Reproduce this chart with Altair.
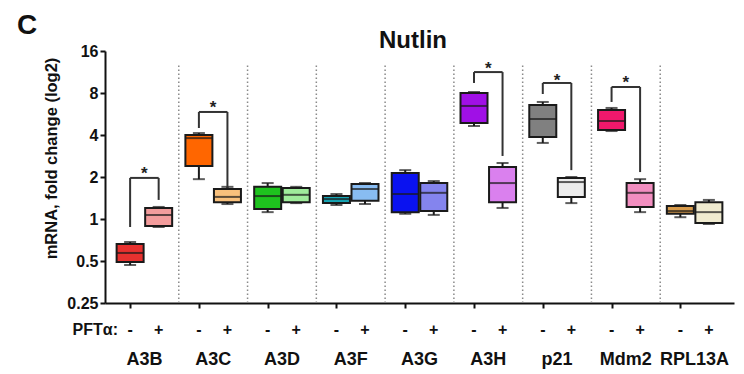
import altair as alt
import pandas as pd

genes = ["A3B", "A3C", "A3D", "A3F", "A3G", "A3H", "p21", "Mdm2", "RPL13A"]

# PFTα "-" boxes
neg_min = [0.468, 1.93, 1.12, 1.26, 1.09, 4.64, 3.51, 4.27, 1.03]
neg_q1 = [0.492, 2.40, 1.18, 1.30, 1.12, 4.88, 3.87, 4.34, 1.09]
neg_med = [0.571, 3.80, 1.46, 1.39, 1.51, 6.46, 5.21, 5.04, 1.14]
neg_q3 = [0.662, 4.00, 1.70, 1.46, 2.14, 8.00, 6.56, 6.04, 1.24]
neg_max = [0.684, 4.13, 1.81, 1.51, 2.24, 8.13, 6.90, 6.25, 1.26]

# PFTα "+" boxes
pos_min = [0.876, 1.28, 1.30, 1.28, 1.07, 1.20, 1.30, 1.12, 0.921]
pos_q1 = [0.891, 1.32, 1.32, 1.35, 1.14, 1.32, 1.44, 1.22, 0.936]
pos_med = [1.068, 1.44, 1.49, 1.64, 1.54, 1.81, 1.84, 1.54, 1.12]
pos_q3 = [1.199, 1.64, 1.67, 1.78, 1.81, 2.36, 1.97, 1.81, 1.32]
pos_max = [1.22, 1.70, 1.70, 1.81, 1.87, 2.52, 2.00, 1.93, 1.37]

neg_colors = ["#e8312f", "#ff6600", "#1ec31e", "#17a5b4", "#0a12f0",
              "#a010e6", "#808080", "#f0186c", "#d79a4a"]
pos_colors = ["#f39c9c", "#f8c07c", "#9fec9b", "#88bcf2", "#8484ee",
              "#da80ee", "#ececec", "#f28ec0", "#f0ebd0"]

# significance brackets
sig_genes = ["A3B", "A3C", "A3H", "p21", "Mdm2"]
sig_left_start = [0.876, 4.49, 9.44, 7.87, 6.90]
sig_top = [1.97, 5.85, 11.3, 9.44, 8.83]
sig_right_end = [1.37, 1.67, 2.83, 2.24, 2.17]
sig_star = [2.24, 6.67, 12.7, 10.4, 10.1]

y_ticks = [0.25, 0.5, 1, 2, 4, 8, 16]
sep_top = 12.7
OFF = 0.2075

rows = []
for i, g in enumerate(genes):
    rows.append(dict(gene=g, treat="-", pos=i - OFF, mn=neg_min[i], q1=neg_q1[i],
                     med=neg_med[i], q3=neg_q3[i], mx=neg_max[i], color=neg_colors[i]))
    rows.append(dict(gene=g, treat="+", pos=i + OFF, mn=pos_min[i], q1=pos_q1[i],
                     med=pos_med[i], q3=pos_q3[i], mx=pos_max[i], color=pos_colors[i]))
boxes = pd.DataFrame(rows)

gene_df = pd.DataFrame({"gene": genes, "pos": list(range(len(genes)))})
sep_df = pd.DataFrame({"pos": [i + 0.5 for i in range(len(genes) - 1)],
                       "lo": 0.25, "hi": sep_top})

seg = []
stars = []
for k, g in enumerate(sig_genes):
    i = genes.index(g)
    xl, xr = i - OFF, i + OFF
    seg.append(dict(x=xl, x2=xl, y=sig_left_start[k], y2=sig_top[k]))
    seg.append(dict(x=xl, x2=xr, y=sig_top[k], y2=sig_top[k]))
    seg.append(dict(x=xr, x2=xr, y=sig_top[k], y2=sig_right_end[k]))
    stars.append(dict(x=i, y=sig_star[k]))
seg_df = pd.DataFrame(seg)
star_df = pd.DataFrame(stars)

W, H = 629, 252
FONT = "Liberation Sans"

xscale = alt.Scale(domain=[-0.5, len(genes) - 0.5], nice=False, zero=False)
yscale = alt.Scale(type="log", base=2, domain=[0.25, 16], nice=False)

x_axis = alt.Axis(values=list(boxes["pos"]), labels=False, ticks=True, tickSize=5,
                  tickWidth=2, tickColor="#111", domainWidth=2, domainColor="#111",
                  grid=False, title=None)
y_axis = alt.Axis(values=y_ticks, labelExpr="datum.value", tickSize=5, tickWidth=2,
                  tickColor="#111", domainWidth=2, domainColor="#111", grid=False,
                  labelFont=FONT, labelFontSize=16, labelFontWeight="bold",
                  labelColor="#111", labelPadding=2,
                  title="mRNA, fold change  (log2)", titleFont=FONT, titleFontSize=16.5,
                  titleFontWeight="bold", titleColor="#111", titleAngle=270,
                  titleX=-54, titleY=107, titleAlign="center", titleBaseline="middle")

base = alt.Chart(boxes)

seps = alt.Chart(sep_df).mark_rule(color="#8a8a8a", strokeWidth=1.5, strokeDash=[1.5, 2.5]).encode(
    x=alt.X("pos:Q", scale=xscale, axis=x_axis),
    y=alt.Y("lo:Q", scale=yscale, axis=y_axis),
    y2="hi:Q",
)

whisk = base.mark_rule(color="#1a1a1a", strokeWidth=2).encode(
    x=alt.X("pos:Q", scale=xscale), y=alt.Y("mn:Q", scale=yscale), y2="mx:Q")

caps_lo = base.mark_tick(color="#1a1a1a", thickness=2, size=12, orient="horizontal").encode(
    x=alt.X("pos:Q", scale=xscale), y=alt.Y("mn:Q", scale=yscale))
caps_hi = base.mark_tick(color="#1a1a1a", thickness=2, size=12, orient="horizontal").encode(
    x=alt.X("pos:Q", scale=xscale), y=alt.Y("mx:Q", scale=yscale))

bx = base.mark_bar(size=27, stroke="#1a1a1a", strokeWidth=2).encode(
    x=alt.X("pos:Q", scale=xscale), y=alt.Y("q1:Q", scale=yscale), y2="q3:Q",
    fill=alt.Fill("color:N", scale=None))

medians = base.mark_tick(color="#1a1a1a", thickness=2, size=27, orient="horizontal").encode(
    x=alt.X("pos:Q", scale=xscale), y=alt.Y("med:Q", scale=yscale))

brackets = alt.Chart(seg_df).mark_rule(color="#333333", strokeWidth=2).encode(
    x=alt.X("x:Q", scale=xscale), x2="x2:Q", y=alt.Y("y:Q", scale=yscale), y2="y2:Q")

star_txt = alt.Chart(star_df).mark_text(text="*", font=FONT, fontSize=17, fontWeight="bold",
                                        color="#222", baseline="middle", dy=4).encode(
    x=alt.X("x:Q", scale=xscale), y=alt.Y("y:Q", scale=yscale))

sign_txt = base.mark_text(font=FONT, fontSize=16, fontWeight="bold", color="#111",
                          baseline="middle").encode(
    x=alt.X("pos:Q", scale=xscale), y=alt.value(H + 27), text="treat:N")

gene_txt = alt.Chart(gene_df).mark_text(font=FONT, fontSize=18, fontWeight="bold",
                                        color="#111", baseline="alphabetic").encode(
    x=alt.X("pos:Q", scale=xscale), y=alt.value(H + 62), text="gene:N")

pft_txt = alt.Chart(gene_df.head(1)).mark_text(text="PFTα:", font=FONT, fontSize=16,
                                               fontWeight="bold", color="#111",
                                               align="right", baseline="middle").encode(
    x=alt.value(13), y=alt.value(H + 27))

panel_txt = alt.Chart(gene_df.head(1)).mark_text(text="C", font=FONT, fontSize=28,
                                                 fontWeight="bold", color="#111",
                                                 align="left", baseline="alphabetic").encode(
    x=alt.value(-88), y=alt.value(-17))

title_txt = alt.Chart(gene_df.head(1)).mark_text(text="Nutlin", font=FONT, fontSize=24,
                                                 fontWeight="bold", color="#111",
                                                 align="center", baseline="alphabetic").encode(
    x=alt.value(308), y=alt.value(-3))

chart = alt.layer(seps, whisk, caps_lo, caps_hi, bx, medians, brackets, star_txt,
                  sign_txt, gene_txt, pft_txt, panel_txt, title_txt).properties(
    width=W, height=H,
    autosize=alt.AutoSizeParams(type="none"),
    padding={"left": 97, "top": 43, "right": 2, "bottom": 70},
).configure_view(stroke=None)

chart.save("out.html", embed_options={"renderer": "svg", "actions": False})
